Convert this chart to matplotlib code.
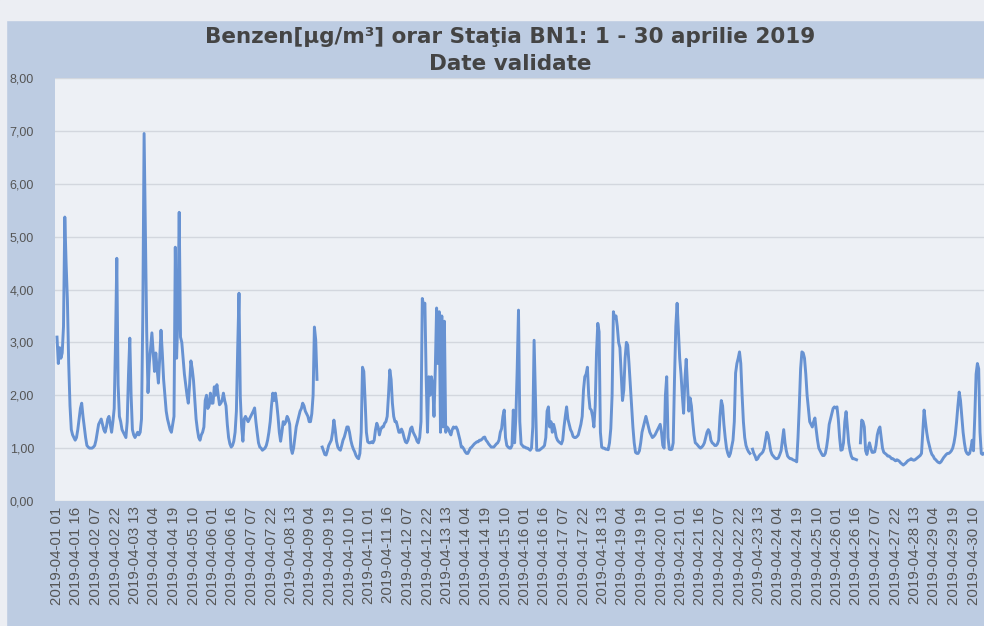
import numpy as np
import pandas as pd
import matplotlib
matplotlib.use("Agg")
import matplotlib.pyplot as plt
from matplotlib.patches import Rectangle

nan = float("nan")

title = "Benzen[µg/m³] orar Staţia BN1: 1 - 30 aprilie 2019"
subtitle = "Date validate"
start = "2019-04-01 01:00"
tick_step = 15
yticks = [0, 1, 2, 3, 4, 5, 6, 7, 8]

# hourly values, one row of 24 per day (first value = 01:00)
benzen = [
    3.1, 2.6, 2.9, 2.7, 2.8, 3.3, 5.37, 4.5, 3.8, 2.6, 1.8, 1.35, 1.25, 1.2, 1.15, 1.2, 1.35, 1.55, 1.75, 1.85, 1.6, 1.4, 1.2, 1.05,
    1.02, 1.0, 1.0, 1.0, 1.02, 1.05, 1.15, 1.3, 1.45, 1.5, 1.55, 1.45, 1.35, 1.3, 1.4, 1.55, 1.6, 1.45, 1.3, 1.5, 1.75, 3.0, 4.59, 2.2,
    1.6, 1.5, 1.35, 1.3, 1.25, 1.2, 1.5, 2.4, 3.08, 2.0, 1.35, 1.25, 1.2, 1.25, 1.3, 1.25, 1.3, 1.55, 3.5, 6.95, 5.0, 3.2, 2.05, 2.6,
    2.9, 3.18, 2.8, 2.45, 2.8, 2.5, 2.23, 2.7, 3.23, 2.8, 2.3, 2.0, 1.7, 1.55, 1.45, 1.35, 1.3, 1.45, 1.6, 4.8, 2.7, 3.5, 5.46, 3.1,
    3.0, 2.7, 2.4, 2.2, 2.0, 1.85, 2.2, 2.65, 2.5, 2.28, 1.9, 1.55, 1.35, 1.2, 1.15, 1.25, 1.3, 1.4, 1.9, 2.0, 1.75, 1.8, 2.04, 1.85,
    1.85, 2.16, 2.0, 2.2, 2.0, 1.82, 1.85, 1.9, 2.04, 1.9, 1.8, 1.45, 1.2, 1.08, 1.02, 1.05, 1.13, 1.3, 1.7, 2.9, 3.93, 1.97, 1.4, 1.13,
    1.55, 1.6, 1.55, 1.5, 1.55, 1.6, 1.65, 1.7, 1.76, 1.5, 1.29, 1.1, 1.02, 1.0, 0.96, 0.98, 1.0, 1.05, 1.15, 1.3, 1.5, 1.8, 2.04, 1.9,
    2.04, 1.85, 1.6, 1.3, 1.13, 1.3, 1.5, 1.45, 1.5, 1.6, 1.55, 1.45, 1.0, 0.9, 1.0, 1.2, 1.4, 1.5, 1.6, 1.7, 1.75, 1.85, 1.8, 1.7,
    1.65, 1.6, 1.5, 1.5, 1.65, 2.0, 3.29, 3.05, 2.3, nan, nan, nan, 1.02, 0.95, 0.88, 0.87, 0.95, 1.05, 1.1, 1.15, 1.3, 1.53, 1.35, 1.13,
    1.02, 0.98, 0.96, 1.05, 1.15, 1.21, 1.3, 1.4, 1.4, 1.3, 1.15, 1.05, 0.98, 0.93, 0.86, 0.82, 0.8, 0.9, 1.3, 2.53, 2.45, 1.9, 1.3, 1.12,
    1.1, 1.1, 1.12, 1.1, 1.15, 1.35, 1.47, 1.4, 1.25, 1.35, 1.4, 1.4, 1.47, 1.5, 1.6, 2.0, 2.48, 2.3, 1.85, 1.6, 1.5, 1.5, 1.4, 1.3,
    1.3, 1.36, 1.3, 1.2, 1.12, 1.1, 1.15, 1.25, 1.37, 1.4, 1.3, 1.25, 1.2, 1.13, 1.1, 1.2, 1.5, 3.83, 3.7, 3.74, 2.3, 1.3, 2.35, 2.0,
    2.35, 2.2, 1.6, 2.5, 3.65, 2.6, 3.58, 1.3, 3.5, 1.4, 3.4, 1.3, 1.4, 1.37, 1.3, 1.25, 1.35, 1.4, 1.38, 1.4, 1.35, 1.25, 1.15, 1.02,
    1.02, 0.98, 0.93, 0.9, 0.9, 0.95, 1.0, 1.02, 1.05, 1.08, 1.1, 1.12, 1.12, 1.15, 1.15, 1.17, 1.2, 1.21, 1.15, 1.12, 1.08, 1.05, 1.02, 1.02,
    1.02, 1.05, 1.08, 1.1, 1.15, 1.3, 1.37, 1.6, 1.72, 1.2, 1.05, 1.02, 1.0, 1.0, 1.05, 1.72, 1.1, 1.6, 2.5, 3.61, 1.5, 1.08, 1.05, 1.02,
    1.02, 1.0, 1.0, 0.98, 0.96, 1.0, 1.4, 3.04, 2.0, 0.96, 0.96, 0.96, 0.98, 1.0, 1.02, 1.05, 1.2, 1.7, 1.78, 1.4, 1.5, 1.3, 1.45, 1.35,
    1.21, 1.15, 1.12, 1.1, 1.08, 1.15, 1.4, 1.6, 1.78, 1.55, 1.45, 1.35, 1.3, 1.22, 1.2, 1.2, 1.22, 1.25, 1.35, 1.45, 1.6, 2.1, 2.35, 2.4,
    2.53, 2.0, 1.75, 1.72, 1.6, 1.4, 1.8, 2.8, 3.36, 3.2, 1.3, 1.02, 1.0, 1.0, 0.98, 0.98, 0.97, 1.1, 1.37, 2.0, 3.58, 3.45, 3.5, 3.3,
    3.0, 2.9, 2.4, 1.9, 2.1, 2.7, 3.0, 2.95, 2.6, 2.2, 1.8, 1.4, 1.1, 0.92, 0.9, 0.9, 0.95, 1.1, 1.3, 1.4, 1.5, 1.6, 1.5, 1.4,
    1.3, 1.25, 1.2, 1.22, 1.25, 1.3, 1.35, 1.4, 1.45, 1.3, 1.05, 1.0, 2.0, 2.35, 1.2, 0.98, 0.97, 0.98, 1.1, 2.3, 3.3, 3.74, 3.2, 2.7,
    2.4, 2.0, 1.66, 2.3, 2.68, 2.2, 1.7, 1.95, 1.8, 1.5, 1.25, 1.1, 1.08, 1.05, 1.02, 1.0, 1.02, 1.05, 1.1, 1.2, 1.3, 1.35, 1.3, 1.15,
    1.1, 1.08, 1.05, 1.05, 1.08, 1.15, 1.6, 1.9, 1.8, 1.45, 1.2, 1.0, 0.9, 0.84, 0.9, 1.02, 1.15, 1.5, 2.42, 2.6, 2.7, 2.82, 2.6, 2.0,
    1.5, 1.2, 1.05, 0.98, 0.93, 0.9, nan, 0.98, 0.9, 0.85, 0.78, 0.8, 0.85, 0.88, 0.9, 0.93, 1.0, 1.15, 1.3, 1.25, 1.1, 0.95, 0.88, 0.85,
    0.82, 0.8, 0.8, 0.82, 0.88, 0.95, 1.15, 1.35, 1.1, 0.95, 0.85, 0.82, 0.8, 0.8, 0.78, 0.77, 0.76, 0.74, 1.2, 1.8, 2.5, 2.82, 2.8, 2.7,
    2.4, 2.0, 1.75, 1.5, 1.45, 1.4, 1.5, 1.57, 1.35, 1.15, 1.0, 0.95, 0.9, 0.86, 0.86, 0.9, 1.02, 1.2, 1.45, 1.55, 1.65, 1.75, 1.78, 1.76,
    1.78, 1.55, 1.2, 0.96, 0.97, 1.1, 1.5, 1.69, 1.4, 1.1, 0.95, 0.85, 0.8, 0.8, 0.79, 0.78, nan, nan, 1.1, 1.53, 1.5, 1.4, 0.95, 0.88,
    1.0, 1.1, 1.0, 0.92, 0.92, 0.93, 1.05, 1.25, 1.35, 1.4, 1.2, 1.0, 0.92, 0.9, 0.88, 0.85, 0.85, 0.83, 0.8, 0.8, 0.78, 0.76, 0.78, 0.77,
    0.75, 0.72, 0.7, 0.68, 0.7, 0.72, 0.75, 0.77, 0.78, 0.8, 0.78, 0.77, 0.78, 0.8, 0.82, 0.84, 0.86, 0.9, 1.3, 1.72, 1.5, 1.3, 1.15, 1.05,
    0.95, 0.88, 0.85, 0.8, 0.78, 0.75, 0.73, 0.72, 0.74, 0.78, 0.82, 0.85, 0.88, 0.9, 0.9, 0.92, 0.95, 1.0, 1.1, 1.25, 1.5, 1.8, 2.06, 1.9,
    1.6, 1.3, 1.1, 0.95, 0.9, 0.88, 0.9, 1.0, 1.15, 0.95, 1.6, 2.4, 2.6, 2.5, 1.3, 0.9, 0.88, 0.9, 0.92, 0.95, 1.0, 1.05, 1.0, 0.95,
]

plt.rcParams["font.family"] = ["Liberation Sans", "DejaVu Sans"]

frame_blue = "#bdcce2"
light = "#eceef3"
plot_bg = "#edf0f5"
line_color = "#6792d2"
text_color = "#444444"

hours = pd.date_range(start, periods=len(benzen), freq="h")
x = np.arange(len(benzen))
tick_pos = x[::tick_step]
tick_pos = tick_pos[tick_pos <= 705]
tick_labels = [hours[i].strftime("%Y-%m-%d %H") for i in tick_pos]

W, H = 984, 626
fig = plt.figure(figsize=(W / 100, H / 100), dpi=100, facecolor=frame_blue)
fig.patches.append(Rectangle((0, 1 - 20 / H), 1, 20 / H, transform=fig.transFigure,
                             color=light, zorder=-5))
fig.patches.append(Rectangle((0, 0), 6 / W, 1, transform=fig.transFigure,
                             color=light, zorder=-5))

ax = fig.add_axes([55 / W, (H - 501) / H, 1 - 55 / W, (501 - 78) / H])
ax.set_facecolor(plot_bg)
ax.plot(x, benzen, color=line_color, lw=2.1, solid_joinstyle="round")

px_per_hour = 1.3
ax.set_xlim(-2 / px_per_hour, (W - 57) / px_per_hour)
ax.set_ylim(0, 8)
ax.set_yticks(yticks)
ax.set_yticklabels([f"{v:.2f}".replace(".", ",") for v in yticks],
                   fontsize=9, color="#555555")
ax.set_xticks(tick_pos)
ax.set_xticklabels(tick_labels, rotation=90, fontsize=10.8, color="#555555")
ax.tick_params(axis="both", length=0)
ax.tick_params(axis="x", pad=4)
ax.tick_params(axis="y", pad=15)
ax.grid(axis="y", color="#d3d7de", lw=1)
ax.set_axisbelow(True)
for s in ax.spines.values():
    s.set_visible(False)

fig.text(510 / W, 1 - 37 / H, title, ha="center", va="center", family="DejaVu Sans",
         fontsize=15.5, fontweight="bold", color=text_color)
fig.text(510 / W, 1 - 64 / H, subtitle, ha="center", va="center", family="DejaVu Sans",
         fontsize=15.5, fontweight="bold", color=text_color)

fig.savefig("out.png", dpi=100, facecolor=fig.get_facecolor())
